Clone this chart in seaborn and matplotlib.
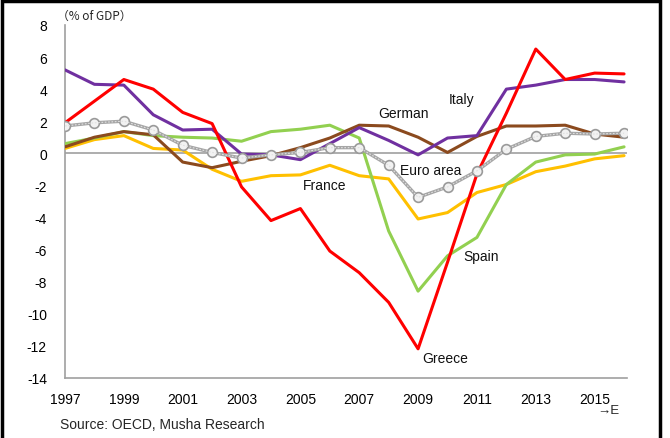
import numpy as np
import pandas as pd
import matplotlib
matplotlib.use("Agg")
import matplotlib.pyplot as plt
import seaborn as sns
from matplotlib.patches import Rectangle

years = list(range(1997, 2017))
italy   = [5.2, 4.3, 4.25, 2.4, 1.45, 1.5, -0.05, -0.1, -0.4, 0.6, 1.6, 0.8, -0.1, 0.95, 1.1, 4.0, 4.25, 4.6, 4.6, 4.45]
greece  = [1.9, 3.25, 4.6, 4.0, 2.55, 1.85, -2.1, -4.2, -3.45, -6.1, -7.45, -9.3, -12.2, -6.8, -1.3, 2.5, 6.5, 4.6, 5.0, 4.95]
germany = [0.4, 1.0, 1.35, 1.15, -0.55, -0.9, -0.5, -0.15, 0.35, 0.95, 1.75, 1.7, 1.0, 0.05, 1.05, 1.7, 1.7, 1.75, 1.2, 1.0]
spain   = [0.6, 0.95, 1.35, 1.1, 1.0, 0.95, 0.75, 1.35, 1.5, 1.75, 0.95, -4.85, -8.6, -6.4, -5.25, -1.95, -0.55, -0.1, -0.05, 0.4]
france  = [0.3, 0.85, 1.1, 0.3, 0.2, -1.0, -1.75, -1.4, -1.35, -0.75, -1.4, -1.6, -4.1, -3.7, -2.45, -1.95, -1.15, -0.8, -0.35, -0.15]
euro    = [1.7, 1.9, 2.0, 1.45, 0.5, 0.05, -0.3, -0.1, 0.05, 0.35, 0.35, -0.75, -2.75, -2.1, -1.1, 0.25, 1.05, 1.25, 1.2, 1.25]

series = {"Italy": italy, "Greece": greece, "German": germany, "Spain": spain, "France": france}
colors = {"Italy": "#7030A0", "Greece": "#FF0000", "German": "#8B4A1E",
          "Spain": "#92D050", "France": "#FFC000"}

df = pd.DataFrame([(y, k, v) for k, vals in series.items() for y, v in zip(years, vals)],
                  columns=["year", "country", "value"])
df_euro = pd.DataFrame({"year": years, "value": euro})

sns.set_theme(style="white")
plt.rcParams["font.family"] = ["Liberation Sans", "DejaVu Sans"]
plt.rcParams["axes.unicode_minus"] = False

fig = plt.figure(figsize=(6.7, 4.39), dpi=100)
ax = fig.add_axes([65/670, 1-378.7/439, (627-65)/670, (378.7-26)/439])

ax.axhline(0, color="#A0A0A0", lw=1.2, zorder=1)

order = ["France", "Spain", "German", "Italy", "Greece"]
sns.lineplot(data=df, x="year", y="value", hue="country", hue_order=order,
             palette=colors, lw=2.2, legend=False, ax=ax, zorder=3)
sns.lineplot(data=df_euro, x="year", y="value", color="#A6A6A6", lw=2.4,
             marker="o", markersize=7, markerfacecolor="#F2F2F2",
             markeredgecolor="#9A9A9A", markeredgewidth=1.2, legend=False, ax=ax, zorder=4)
ax.plot(df_euro["year"], df_euro["value"], color="#E0E0E0", lw=0.8, ls=(0, (1.5, 1.5)), zorder=5)

ax.set_xlim(1997, 2016.1)
ax.set_ylim(-14, 8)
ax.set_xticks(list(range(1997, 2017, 2)))
ax.set_yticks(list(range(-14, 9, 2)))
ax.set_xlabel("")
ax.set_ylabel("")
for s in ["top", "right"]:
    ax.spines[s].set_visible(False)
for s in ["left", "bottom"]:
    ax.spines[s].set_color("#A0A0A0")
    ax.spines[s].set_linewidth(1.2)
ax.tick_params(axis="both", which="both", direction="out", length=4, width=1,
               color="#A0A0A0", labelsize=10, labelcolor="black")
ax.tick_params(axis="y", pad=9)
ax.tick_params(axis="x", pad=6)

txt = dict(fontsize=10, color="#111111", va="center", ha="left")
ax.text(2007.65, 2.5, "German", **txt)
ax.text(2010.03, 3.4, "Italy", **txt)
ax.text(2008.4, -1.06, "Euro area", **txt)
ax.text(2005.1, -2.0, "France", **txt)
ax.text(2010.54, -6.4, "Spain", **txt)
ax.text(2009.14, -12.75, "Greece", **txt)

fig.text(57/670, 1-16/439, "（% of GDP）", fontsize=8.5, va="center", ha="left",
         family=["Noto Sans CJK JP", "DejaVu Sans"])
fig.text(597/670, 1-411/439, "→E", fontsize=9.5, va="center", ha="left")
fig.text(60/670, 1-425/439, "Source: OECD, Musha Research", fontsize=10, va="center", ha="left")

fig.patches.append(Rectangle((2/670, -0.05), (660-2)/670, 1-2/439+0.05, fill=False,
                             edgecolor="black", lw=2.5, transform=fig.transFigure,
                             clip_on=False))

fig.savefig("out.png", dpi=100)
